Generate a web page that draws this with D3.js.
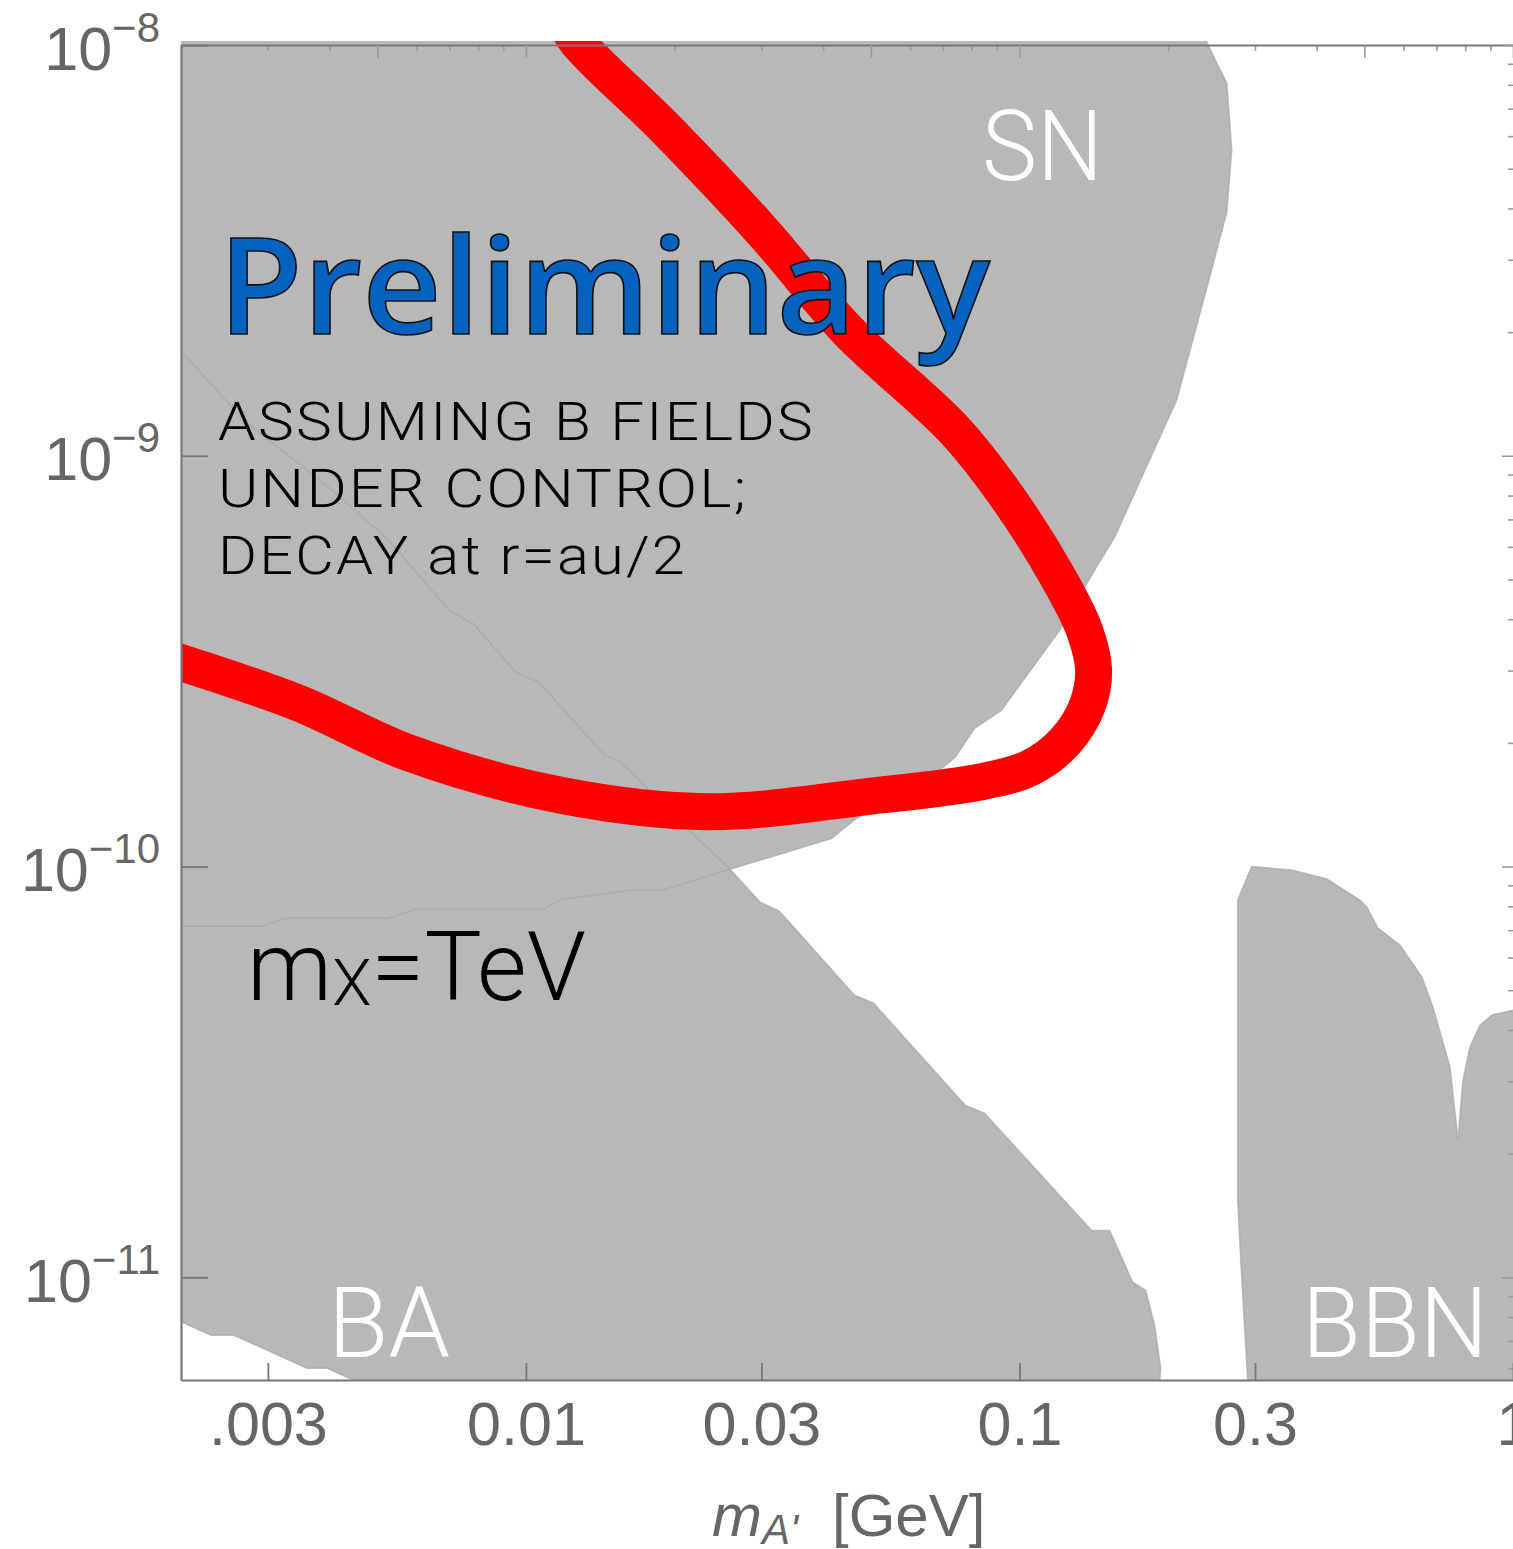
<!DOCTYPE html>
<html lang="en">
<head>
<meta charset="utf-8" />
<title>Dark photon exclusion</title>
<script src="https://d3js.org/d3.v7.min.js"></script>
<style>
  body { margin: 0; background: #fff; }
  svg { display: block; }
</style>
</head>
<body>
<svg width="1513" height="1549"></svg>
<script>
    let width = 1513,
        height = 1549;

    // boundaries, mass in GeV and kinetic mixing epsilon
    var snMass = [0.0019, 0.232, 0.2394, 0.2510, 0.2630, 0.2692, 0.2630, 0.2428, 0.2083, 0.1559, 0.1420, 0.1206, 0.0919, 0.0811,
        0.0742, 0.0679, 0.0463, 0.0416, 0.0260, 0.01888, 0.01633, 0.01183, 0.01083, 0.00598, 0.00525, 0.00326, 0.00293, 0.0019];
    var snEps = [1.2e-8, 1.2e-8, 1.02e-8, 9.04e-9, 8.08e-9, 5.55e-9, 3.92e-9, 2.72e-9, 1.37e-9, 6.34e-10, 5.27e-10, 3.76e-10, 2.40e-10, 2.17e-10,
        1.85e-10, 1.69e-10, 1.30e-10, 1.17e-10, 9.86e-11, 8.76e-11, 8.76e-11, 8.33e-11, 7.87e-11, 7.87e-11, 7.48e-11, 7.48e-11, 7.16e-11, 7.16e-11];

    var baMass = [0.0019, 0.00268, 0.00398, 0.00527, 0.00698, 0.00784, 0.00954, 0.01062, 0.0144, 0.01544, 0.0220, 0.0260, 0.0298, 0.0326,
        0.0463, 0.0506, 0.0777, 0.0849, 0.1400, 0.1523, 0.1695, 0.1801, 0.1878, 0.1932, 0.1913, 0.00503, 0.00448, 0.00395, 0.00360,
        0.00256, 0.00230, 0.00199, 0.0019];
    var baEps = [1.93e-9, 1.22e-9, 8.39e-10, 6.23e-10, 4.21e-10, 3.89e-10, 2.97e-10, 2.81e-10, 1.87e-10, 1.81e-10, 1.19e-10, 9.80e-11, 8.19e-11, 7.79e-11,
        4.86e-11, 4.65e-11, 2.62e-11, 2.51e-11, 1.30e-11, 1.30e-11, 9.73e-12, 9.30e-12, 7.64e-12, 6.01e-12, 5e-12, 5e-12, 5.61e-12, 6.01e-12, 6.01e-12,
        7.23e-12, 7.23e-12, 7.82e-12, 8.04e-12];

    var bbnMass = [0.2955, 0.3562, 0.4196, 0.4894, 0.5057, 0.5323, 0.5900, 0.6537, 0.6882, 0.7452, 0.7735, 0.7918, 0.8181, 0.8572, 0.9066,
        1.0, 1.08, 1.08, 0.291, 0.2901, 0.2808, 0.2769, 0.2769];
    var bbnEps = [1.00e-10, 9.80e-11, 9.32e-11, 8.28e-11, 7.96e-11, 7.08e-11, 6.44e-11, 5.38e-11, 4.55e-11, 3.25e-11, 2.16e-11, 3.02e-11, 3.63e-11,
        4.11e-11, 4.35e-11, 4.47e-11, 4.5e-11, 5e-12, 5e-12, 5.61e-12, 1.10e-11, 1.54e-11, 8.28e-11];

    // sensitivity curve (red)
    var redMass = [0.00193, 0.00346, 0.00579, 0.0118, 0.0234, 0.0492, 0.0841, 0.1048, 0.1234, 0.1373, 0.1413, 0.1354, 0.1206, 0.0954,
        0.0738, 0.0448, 0.0300, 0.0193, 0.01269, 0.01195];
    var redEps = [3.18e-10, 2.50e-10, 1.89e-10, 1.49e-10, 1.36e-10, 1.48e-10, 1.61e-10, 1.736e-10, 2.01e-10, 2.47e-10, 3.01e-10, 3.76e-10, 4.98e-10, 7.80e-10,
        1.155e-9, 2.02e-9, 3.54e-9, 6.21e-9, 1.02e-8, 1.15e-8];

    var xTickValues = [0.003, 0.01, 0.03, 0.1, 0.3, 1];
    var xTickLabels = [".003", "0.01", "0.03", "0.1", "0.3", "1"];
    var yTickValues = [1e-8, 1e-9, 1e-10, 1e-11];
    var yTickExps = ["8", "9", "10", "11"];

    let svg = d3.select("svg").attr("viewBox", "0 0 " + width + " " + height);

    let x = d3.scaleLog().domain([0.002, 1]).range([181, 1513]);
    let y = d3.scaleLog().domain([Math.pow(10, -11.25), 1e-8]).range([1380, 45]);

    function zip(ms, es) {
        return ms.map((m, i) => [m, es[i]]);
    }

    svg.append("defs")
        .append("clipPath")
        .attr("id", "plotclip")
        .append("rect")
        .attr("x", 181)
        .attr("y", 41)
        .attr("width", 1400)
        .attr("height", 1380 - 41);

    let plot = svg.append("g").attr("clip-path", "url(#plotclip)");

    let poly = d3.line().x(d => x(d[0])).y(d => y(d[1]));
    let regions = [zip(snMass, snEps), zip(baMass, baEps), zip(bbnMass, bbnEps)];

    plot.selectAll("path.fill")
        .data(regions)
        .enter()
        .append("path")
        .attr("class", "fill")
        .attr("d", d => poly(d) + "Z")
        .attr("fill", "#b8b8b8");

    plot.selectAll("path.edge")
        .data(regions)
        .enter()
        .append("path")
        .attr("class", "edge")
        .attr("d", d => poly(d) + "Z")
        .attr("fill", "none")
        .attr("stroke", "#a6a6a6")
        .attr("stroke-opacity", 0.7)
        .attr("stroke-width", 1.6);

    let redLine = d3.line()
        .x(d => x(d[0]))
        .y(d => y(d[1]))
        .curve(d3.curveCatmullRom.alpha(0.5));

    plot.append("path")
        .attr("d", redLine(zip(redMass, redEps)))
        .attr("fill", "none")
        .attr("stroke", "#ff0000")
        .attr("stroke-width", 37)
        .attr("stroke-linejoin", "round");

    // region labels
    let light = "Roboto, 'Liberation Sans', sans-serif";
    function label(txt, px, py, size, len, color, spacing) {
        return svg.append("text")
            .attr("x", px)
            .attr("y", py)
            .attr("font-family", light)
            .attr("font-weight", 300)
            .attr("font-size", size)
            .attr("letter-spacing", spacing)
            .attr("fill", color)
            .attr("textLength", len)
            .attr("lengthAdjust", "spacingAndGlyphs")
            .text(txt);
    }
    label("SN", 982, 180, 98, 121, "#fff", 0);
    label("BA", 328, 1357, 98, 122, "#fff", 0);
    label("BBN", 1302, 1357, 98, 186, "#fff", 0);

    label("ASSUMING B FIELDS", 218, 440, 54, 597, "#000", 2);
    label("UNDER CONTROL;", 218, 507, 54, 530, "#000", 2);
    label("DECAY at r=au/2", 218, 574, 54, 469, "#000", 2);

    let mx = svg.append("text")
        .attr("x", 247)
        .attr("y", 1000)
        .attr("font-family", light)
        .attr("font-weight", 300)
        .attr("font-size", 96)
        .attr("fill", "#000");
    mx.append("tspan").text("m");
    mx.append("tspan").attr("font-size", 64).attr("dy", 5).text("X");
    mx.append("tspan").attr("dy", -5).text("=TeV");

    svg.append("text")
        .attr("x", 218)
        .attr("y", 334)
        .attr("font-family", "'Open Sans', sans-serif")
        .attr("font-weight", 600)
        .attr("font-size", 134)
        .attr("fill", "#0562bf")
        .attr("stroke", "#111")
        .attr("stroke-width", 1.6)
        .attr("textLength", 772)
        .attr("lengthAdjust", "spacingAndGlyphs")
        .text("Preliminary");

    // axes
    let tickFont = "'Liberation Sans', Arial, sans-serif";
    let majorX = [0.005, 0.01, 0.05, 0.1, 0.5, 1];
    let minorX = x.ticks().filter(v => !majorX.some(m => Math.abs(m - v) / m < 1e-6));
    let majorY = yTickValues;
    let minorY = y.ticks().filter(v => !majorY.some(m => Math.abs(m - v) / m < 1e-6));

    let topMinor = svg.append("g")
        .attr("transform", "translate(0,45)")
        .call(d3.axisTop(x).tickValues(minorX).tickFormat("").tickSizeInner(-6).tickSizeOuter(0));
    let topMajor = svg.append("g")
        .attr("transform", "translate(0,45)")
        .call(d3.axisTop(x).tickValues(majorX).tickFormat("").tickSizeInner(-13).tickSizeOuter(0));
    topMinor.select(".domain").remove();
    topMajor.select(".domain").attr("stroke", "#777").attr("stroke-width", 2.2);

    let rightMinor = svg.append("g")
        .attr("transform", "translate(1513,0)")
        .call(d3.axisRight(y).tickValues(minorY).tickFormat("").tickSizeInner(-5).tickSizeOuter(0));
    let rightMajor = svg.append("g")
        .attr("transform", "translate(1513,0)")
        .call(d3.axisRight(y).tickValues(majorY).tickFormat("").tickSizeInner(-11).tickSizeOuter(0));
    rightMinor.select(".domain").remove();
    rightMajor.select(".domain").remove();

    [topMinor, topMajor, rightMinor, rightMajor].forEach(g => {
        g.selectAll(".tick line").attr("stroke", "#9a9a9a").attr("stroke-width", 1.6);
    });

    let bottom = svg.append("g")
        .attr("transform", "translate(0,1380)")
        .call(d3.axisBottom(x)
            .tickValues(xTickValues)
            .tickFormat((d, i) => xTickLabels[i])
            .tickSizeInner(-17)
            .tickSizeOuter(0)
            .tickPadding(22));
    bottom.select(".domain").attr("stroke", "#777").attr("stroke-width", 2.2);
    bottom.selectAll(".tick line").attr("stroke", "#777").attr("stroke-width", 1.8);
    bottom.selectAll(".tick text")
        .attr("font-family", tickFont)
        .attr("font-size", 61)
        .attr("fill", "#666");

    let left = svg.append("g")
        .attr("transform", "translate(181,0)")
        .call(d3.axisLeft(y)
            .tickValues(yTickValues)
            .tickSizeInner(-27)
            .tickSizeOuter(0)
            .tickPadding(21));
    left.select(".domain").attr("stroke", "#777").attr("stroke-width", 2.2);
    left.selectAll(".tick line").attr("stroke", "#777").attr("stroke-width", 1.8);
    left.selectAll(".tick text").each(function (d, i) {
        let t = d3.select(this)
            .text(null)
            .attr("dy", null)
            .attr("y", 24)
            .attr("font-family", tickFont)
            .attr("font-size", 61)
            .attr("fill", "#666");
        t.append("tspan").text("10");
        t.append("tspan").attr("font-size", 42).attr("dy", -28).text("\u2212" + yTickExps[i]);
    });

    // x axis title
    let title = svg.append("text")
        .attr("x", 712)
        .attr("y", 1536)
        .attr("font-family", tickFont)
        .attr("font-size", 60)
        .attr("fill", "#666");
    title.append("tspan").attr("font-style", "italic").text("m");
    title.append("tspan").attr("font-style", "italic").attr("font-size", 42).attr("dy", 8).text("A'");
    title.append("tspan").attr("x", 832).attr("dy", -8).text("[GeV]");
</script>
</body>
</html>
